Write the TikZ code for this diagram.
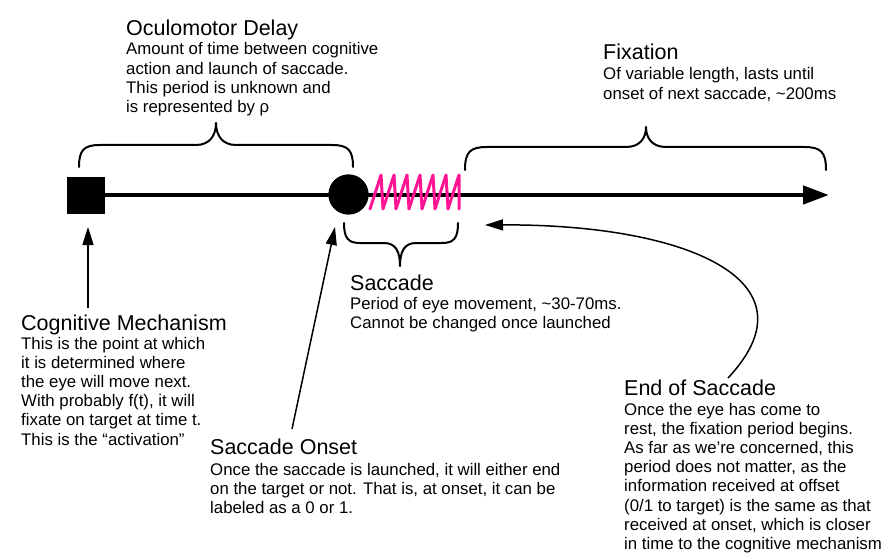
\documentclass[tikz,border=0pt]{standalone}
\usepackage{fontspec}
\setmainfont{Liberation Sans}
\usetikzlibrary{arrows.meta}
\definecolor{sacpink}{RGB}{255,20,147}
\tikzset{
  ttl/.style={anchor=base west, inner sep=0pt, font=\fontsize{21.5}{24}\selectfont},
  bdy/.style={anchor=base west, inner sep=0pt, align=left, font=\fontsize{16.8}{19.2}\selectfont},
  brace/.style={line width=2pt, line cap=round, line join=round},
  pointer/.style={line width=1.5pt, -{Triangle[length=18pt,width=11pt]}},
  timeline/.style={line width=4.5pt, -{Triangle[length=26pt,width=18pt]}},
  spring/.style={draw=sacpink, line width=3pt, line cap=round, line join=round},
}
\begin{document}
\begin{tikzpicture}[x=1pt,y=-1pt]
\useasboundingbox (0,0) rectangle (895,559);

% timeline
\coordinate (tend) at (829,195);
\node[fill=black, draw=black, minimum width=37pt, minimum height=36pt, inner sep=0pt] (cog) at (85.5,195) {};
\node[circle, fill=black, minimum size=40pt, inner sep=0pt] (onset) at (348.5,194.5) {};
\draw[timeline] (cog.center) -- (tend);
\node[fill=black, draw=black, minimum width=37pt, minimum height=36pt, inner sep=0pt] at (cog.center) {};
\node[circle, fill=black, minimum size=40pt, inner sep=0pt] at (onset.center) {};

% spring (saccade)
\draw[spring] (370,209) -- (381,175) -- (383,209) -- (394,175) -- (396,209) -- (407,175) -- (409,209) -- (420,175) -- (422,209) -- (433,175) -- (435,209) -- (446,175) -- (448,209) -- (459,175) -- (459,209);

% braces
\draw[brace] (79,167) .. controls (79,150) and (84,145) .. (100,145) -- (196,145) .. controls (210,145) and (216,135) .. (216,123) .. controls (216,135) and (222,145) .. (236,145) -- (332,145) .. controls (348,145) and (353,150) .. (353,167);
\draw[brace] (465,170) .. controls (465,152) and (470,147) .. (487,147) -- (626,147) .. controls (640,147) and (646,138) .. (646,127) .. controls (646,138) and (652,147) .. (666,147) -- (804,147) .. controls (821,147) and (826,152) .. (826,170);
\draw[brace] (344,223) .. controls (344,238) and (348,243) .. (360,243) -- (384,243) .. controls (396,243) and (400,252) .. (400,266) .. controls (400,252) and (404,243) .. (416,243) -- (442,243) .. controls (454,243) and (458,238) .. (458,223);

% texts (body nodes: base anchor = baseline of last line)
\node[ttl] (odT) at (126,36) {Oculomotor Delay};
\node[bdy] (odB) at (126,112.6) {Amount of time between cognitive\\action and launch of saccade.\\This period is unknown and\\is represented by ρ};

\node[ttl] (fxT) at (603,60) {Fixation};
\node[bdy] (fxB) at (603,99.2) {Of variable length, lasts until\\onset of next saccade, \textasciitilde200ms};

\node[ttl] (scT) at (350,290) {Saccade};
\node[bdy] (scB) at (350,328.2) {Period of eye movement, \textasciitilde30-70ms.\\Cannot be changed once launched};

\node[ttl] (cmT) at (21,330) {Cognitive Mechanism};
\node[bdy] (cmB) at (21,445) {This is the point at which\\it is determined where\\the eye will move next.\\With probably f(t), it will\\fixate on target at time t.\\This is the “activation”};

\node[ttl] (soT) at (210,454) {Saccade Onset};
\node[bdy] (soB) at (210,513.4) {Once the saccade is launched, it will either end\\on the target or not. That is, at onset, it can be\\labeled as a 0 or 1.};

\node[ttl] (esT) at (624,395) {End of Saccade};
\node[bdy] (esB) at (624,549.4) {Once the eye has come to\\rest, the fixation period begins.\\As far as we’re concerned, this\\period does not matter, as the\\information received at offset\\(0/1 to target) is the same as that\\received at onset, which is closer\\in time to the cognitive mechanism};

% pointers
\coordinate (cmTail) at (88,308);
\coordinate (cmTip) at (88,227);
\coordinate (soTail) at (292,429);
\coordinate (soTip) at (335,227);
\coordinate (esTail) at (728,378);
\coordinate (esTip) at (485,225);
\draw[pointer] (cmTail) -- (cmTip);
\draw[pointer] (soTail) -- (soTip);
\draw[pointer] (esTail) .. controls (820,280) and (685,224) .. (esTip);
\end{tikzpicture}
\end{document}
